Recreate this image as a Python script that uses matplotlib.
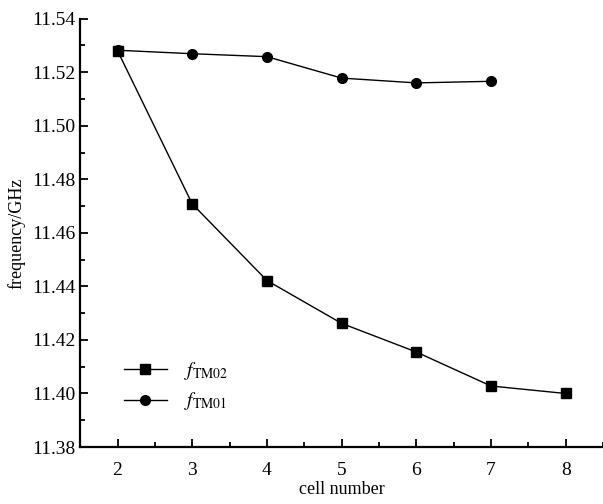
import matplotlib
matplotlib.use('Agg')
import matplotlib.pyplot as plt
from matplotlib.ticker import MultipleLocator

plt.rcParams['font.family'] = 'Liberation Serif'
plt.rcParams['mathtext.fontset'] = 'stix'

cells_tm02 = [2, 3, 4, 5, 6, 7, 8]
f_tm02 = [11.528, 11.4708, 11.4422, 11.4262, 11.4155, 11.4028, 11.400]
cells_tm01 = [2, 3, 4, 5, 6, 7]
f_tm01 = [11.5282, 11.5269, 11.5258, 11.5178, 11.5160, 11.5166]

fig = plt.figure(figsize=(6.03, 5.04), dpi=100)
ax = fig.add_axes([0.133, 0.113, 0.867, 0.85])

ax.plot(cells_tm02, f_tm02, color='black', lw=1.0, marker='s', ms=7, label=r'$f_{\rm TM02}$')
ax.plot(cells_tm01, f_tm01, color='black', lw=1.0, marker='o', ms=7, label=r'$f_{\rm TM01}$')

ax.set_xlim(1.5, 8.5)
ax.set_ylim(11.38, 11.54)
ax.xaxis.set_major_locator(MultipleLocator(1))
ax.xaxis.set_minor_locator(MultipleLocator(0.5))
ax.yaxis.set_major_locator(MultipleLocator(0.02))
ax.yaxis.set_minor_locator(MultipleLocator(0.01))
ax.yaxis.set_major_formatter(plt.FormatStrFormatter('%.2f'))

for s in ['top', 'right']:
    ax.spines[s].set_visible(False)
for s in ['left', 'bottom']:
    ax.spines[s].set_linewidth(1.6)

ax.tick_params(which='major', direction='in', length=6, width=1.3, labelsize=14)
ax.tick_params(which='minor', direction='in', length=3.5, width=1.3)
ax.tick_params(axis='x', pad=11)

ax.set_xlabel('cell number', fontsize=13, labelpad=1)
ax.set_ylabel('frequency/GHz', fontsize=13, labelpad=5)

ax.legend(loc='lower left', bbox_to_anchor=(0.05, 0.04), frameon=False,
          fontsize=14, handlelength=2.2, labelspacing=0.45, handletextpad=0.9)

fig.savefig('out.png', dpi=100)
